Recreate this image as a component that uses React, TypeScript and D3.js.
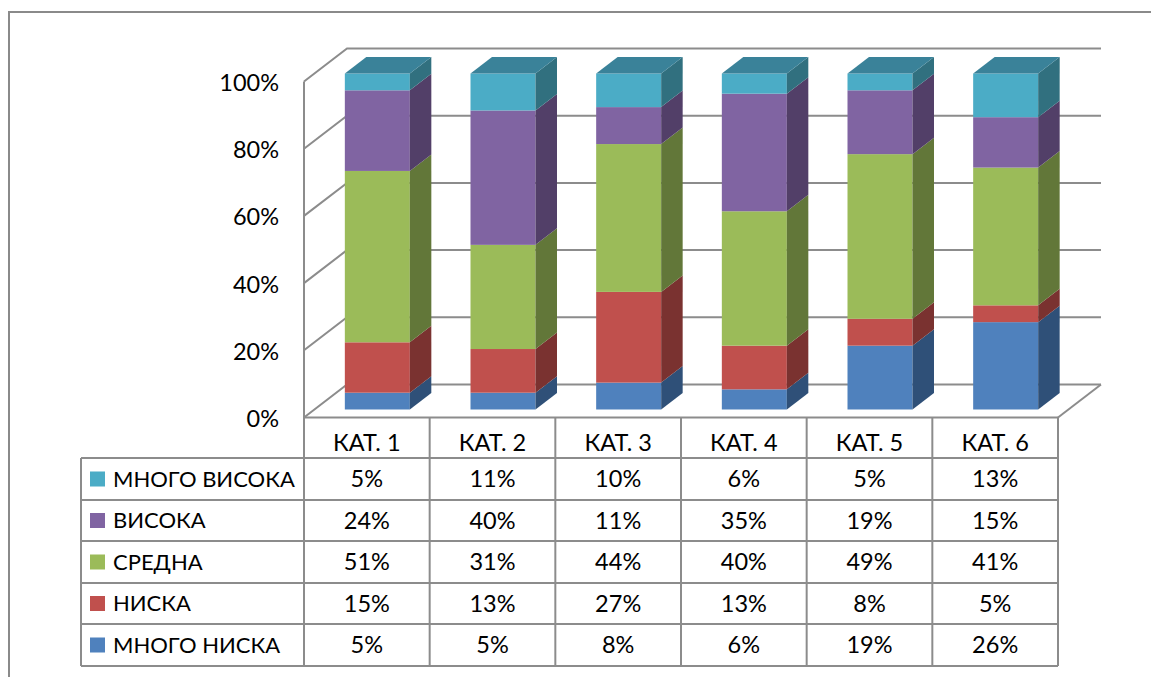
import React from "react";
import * as d3 from "d3";

const categories = ["КАТ. 1", "КАТ. 2", "КАТ. 3", "КАТ. 4", "КАТ. 5", "КАТ. 6"];
const seriesNames = ["МНОГО НИСКА", "НИСКА", "СРЕДНА", "ВИСОКА", "МНОГО ВИСОКА"];
const veryLow = [5, 5, 8, 6, 19, 26];
const low = [15, 13, 27, 13, 8, 5];
const medium = [51, 31, 44, 40, 49, 41];
const high = [24, 40, 11, 35, 19, 15];
const veryHigh = [5, 11, 10, 6, 5, 13];
const tickValues = [0, 20, 40, 60, 80, 100];

const seriesValues = [veryLow, low, medium, high, veryHigh];
const frontColors = ["#4f81bd", "#c0504d", "#9bbb59", "#8064a2", "#4bacc6"];
const sideColors = ["#2f5078", "#7a3230", "#627739", "#523f68", "#31707f"];
const topColor = "#3a8299";
const grid = "#8c8c8c";

const rows = categories.map((c, i) => {
  const o: Record<string, number | string> = { cat: c };
  seriesNames.forEach((s, k) => (o[s] = seriesValues[k][i]));
  return o;
});
const stacked = d3.stack<any>().keys(seriesNames)(rows);

const x = d3.scaleBand().domain(categories).range([304, 1058]);
const yBar = d3.scaleLinear().domain([0, 100]).range([409.5, 73.5]);
const yAxis = d3.scaleLinear().domain([0, 100]).range([417.5, 81.5]);
const wallDx = 43;
const wallDy = -33;
const barDx = 21.5;
const barDy = -16.5;
const barW = 65;
const barOff = (x.bandwidth() - barW) / 2 + 10.5;

const rowLines = [458, 500, 541, 583, 624, 666];
const rowOrder = [4, 3, 2, 1, 0];
const font = "Lato, 'Open Sans', sans-serif";

export default function App() {
  return (
    <svg
      width={1151}
      height={677}
      viewBox="0 0 1151 677"
      style={{ position: "absolute", left: 0, top: 0, background: "#fff" }}
    >
      <path d="M9 677V12H1151" fill="none" stroke="#8a8a8a" strokeWidth={2} />

      {tickValues.map((t) => {
        const y0 = yAxis(t);
        return (
          <g key={t}>
            <path
              d={`M304 ${y0}L${304 + wallDx} ${y0 + wallDy}H${1058 + wallDx}`}
              fill="none"
              stroke={grid}
              strokeWidth={2}
            />
            <text x={279} y={y0 + 9.5} textAnchor="end" fontFamily={font} fontSize={23.5} fill="#000">
              {t}%
            </text>
          </g>
        );
      })}
      <path d={`M1058 417.5L${1058 + wallDx} ${417.5 + wallDy}`} stroke={grid} strokeWidth={2} fill="none" />
      <path d={`M304 81.5V417.5H1058`} stroke={grid} strokeWidth={2} fill="none" />

      {categories.map((c, i) => {
        const x0 = (x(c) as number) + barOff;
        const x1 = x0 + barW;
        return (
          <g key={c}>
            {stacked.map((layer, k) => {
              const top = yBar(layer[i][1]);
              const bottom = yBar(layer[i][0]);
              return (
                <g key={k}>
                  <rect x={x0} y={top} width={barW} height={bottom - top} fill={frontColors[k]} />
                  <path
                    d={`M${x1} ${top}l${barDx} ${barDy}V${bottom + barDy}L${x1} ${bottom}Z`}
                    fill={sideColors[k]}
                  />
                </g>
              );
            })}
            <path
              d={`M${x0} ${yBar(100)}l${barDx} ${barDy}H${x1 + barDx}L${x1} ${yBar(100)}Z`}
              fill={topColor}
            />
          </g>
        );
      })}

      {/* data table */}
      <g stroke={grid} strokeWidth={2} fill="none">
        {rowLines.map((y) => (
          <path key={y} d={`M81 ${y}H1058`} />
        ))}
        <path d="M81 458V666" />
        {[...categories.map((c) => x(c) as number), 1058].map((px) => (
          <path key={px} d={`M${px} 417V666`} />
        ))}
      </g>
      {categories.map((c) => (
        <text
          key={c}
          x={(x(c) as number) + x.bandwidth() / 2}
          y={451}
          textAnchor="middle"
          fontFamily={font}
          fontSize={23.5}
          fill="#000"
        >
          {c}
        </text>
      ))}
      {rowOrder.map((k, r) => {
        const yMid = (rowLines[r] + rowLines[r + 1]) / 2;
        return (
          <g key={k}>
            <rect x={90} y={yMid - 7.5} width={15} height={15} fill={frontColors[k]} />
            <text x={113} y={yMid + 7.5} fontFamily={font} fontSize={22} fill="#000">
              {seriesNames[k]}
            </text>
            {categories.map((c, i) => (
              <text
                key={c}
                x={(x(c) as number) + x.bandwidth() / 2}
                y={yMid + 8}
                textAnchor="middle"
                fontFamily={font}
                fontSize={23.5}
                fill="#000"
              >
                {seriesValues[k][i]}%
              </text>
            ))}
          </g>
        );
      })}
    </svg>
  );
}
